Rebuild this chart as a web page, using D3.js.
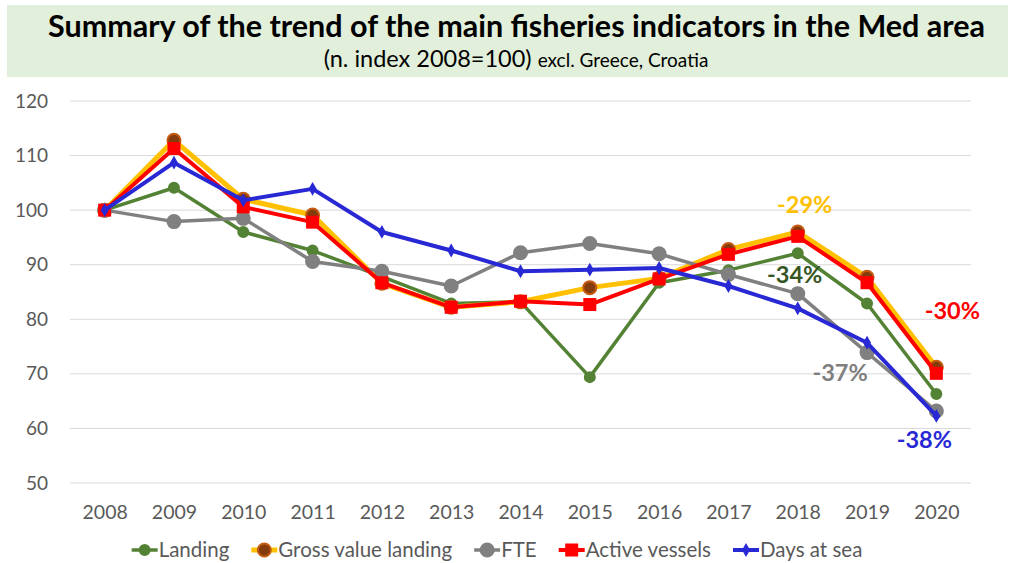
<!DOCTYPE html>
<html>
<head>
<meta charset="utf-8">
<script src="https://d3js.org/d3.v7.min.js"></script>
<style>
  body { margin: 0; background: #fff; }
  text { font-family: Lato, "Open Sans", sans-serif; }
</style>
</head>
<body>
<div id="chart"></div>
<script>
// data
years = ["2008","2009","2010","2011","2012","2013","2014","2015","2016","2017","2018","2019","2020"]
landing      = [100, 104.1, 96.0, 92.6, 87.8, 82.9, 83.2, 69.4, 86.7, 89.0, 92.1, 82.9, 66.3]
grossValue   = [100, 112.8, 102.0, 99.1, 86.6, 82.2, 83.2, 85.8, 87.5, 92.8, 96.0, 87.7, 71.2]
fte          = [100, 97.9, 98.5, 90.6, 88.8, 86.1, 92.2, 93.9, 92.0, 88.2, 84.7, 73.9, 63.2]
activeVessels= [100, 111.3, 100.6, 97.8, 86.7, 82.2, 83.3, 82.7, 87.4, 91.9, 95.2, 86.7, 70.1]
daysAtSea    = [100, 108.7, 101.8, 103.9, 96.0, 92.6, 88.8, 89.1, 89.4, 86.1, 82.0, 75.7, 62.3]
seriesNames  = ["Landing", "Gross value landing", "FTE", "Active vessels", "Days at sea"]
yTicks = [50, 60, 70, 80, 90, 100, 110, 120]

// annotations: label, year, value anchor
noteLabels = ["-29%", "-34%", "-30%", "-37%", "-38%"]
noteYears  = ["2018", "2018", "2020", "2019", "2020"]
noteValues = [100.6, 87.7, 81.2, 69.8, 57.5]
noteShift  = [7, -3, 16, -27, -12]
noteColors = ["#FFC000", "#375623", "#FF0000", "#7F7F7F", "#2828D4"]

width = 1013
height = 563

series = [
  {name: seriesNames[0], values: landing,       color: "#548235", lw: 3.5, marker: "circle", r: 5,  fill: "#548235", stroke: "#548235"},
  {name: seriesNames[1], values: grossValue,    color: "#FFC000", lw: 5,   marker: "circle", r: 6.5, fill: "#843C0C", stroke: "#C55A11"},
  {name: seriesNames[2], values: fte,           color: "#808080", lw: 3.5, marker: "circle", r: 6.5, fill: "#808080", stroke: "#808080"},
  {name: seriesNames[3], values: activeVessels, color: "#FF0000", lw: 4,   marker: "square", r: 6.5, fill: "#FF0000", stroke: "#FF0000"},
  {name: seriesNames[4], values: daysAtSea,     color: "#2828D4", lw: 4,   marker: "diamond", r: 5, fill: "#2828D4", stroke: "#2828D4"}
]

svg = d3.select('#chart')
  .append('svg')
  .attr('width', width)
  .attr('height', height)

// title banner
svg.append('rect')
  .attr('x', 7).attr('y', 5)
  .attr('width', 1001).attr('height', 72)
  .attr('fill', '#E2EFDA')

svg.append('text')
  .attr('x', 48).attr('y', 37)
  .attr('textLength', 937)
  .attr('lengthAdjust', 'spacingAndGlyphs')
  .attr('font-size', 31)
  .attr('font-weight', 'bold')
  .attr('fill', '#000')
  .text('Summary of the trend of the main fisheries indicators in the Med area')

sub = svg.append('text')
  .attr('x', 516).attr('y', 67)
  .attr('text-anchor', 'middle')
  .attr('fill', '#000')
sub.append('tspan').attr('font-size', 23.5).text('(n. index 2008=100) ')
sub.append('tspan').attr('font-size', 19).text('excl. Greece, Croatia')

x = d3.scalePoint()
  .domain(years)
  .range([70, 971])
  .padding(0.5)

y = d3.scaleLinear()
  .domain([50, 120])
  .range([483, 101])

// gridlines
svg.append('g')
  .selectAll('line')
  .data(yTicks)
  .enter().append('line')
  .attr('x1', 70).attr('x2', 971)
  .attr('y1', d => y(d)).attr('y2', d => y(d))
  .attr('stroke', '#D9D9D9')
  .attr('stroke-width', 1)

// y axis
yAxis = svg.append('g')
  .attr('transform', 'translate(58,0)')
  .call(d3.axisLeft(y).tickValues(yTicks).tickSize(0).tickPadding(10))
yAxis.select('.domain').remove()
yAxis.selectAll('text')
  .attr('font-size', 19)
  .attr('fill', '#595959')
  .attr('font-family', 'Lato, sans-serif')

// x axis
xAxis = svg.append('g')
  .attr('transform', 'translate(0,500)')
  .call(d3.axisBottom(x).tickSize(0).tickPadding(5))
xAxis.select('.domain').remove()
xAxis.selectAll('text')
  .attr('font-size', 19.5)
  .attr('fill', '#595959')
  .attr('font-family', 'Lato, sans-serif')

line = d3.line()
  .x((d, i) => x(years[i]))
  .y(d => y(d))

function drawMarker(g, s, cx, cy) {
  if (s.marker == "circle") {
    g.append('circle')
      .attr('cx', cx).attr('cy', cy).attr('r', s.r)
      .attr('fill', s.fill).attr('stroke', s.stroke).attr('stroke-width', 2)
  } else if (s.marker == "square") {
    g.append('rect')
      .attr('x', cx - s.r).attr('y', cy - s.r)
      .attr('width', s.r * 2).attr('height', s.r * 2)
      .attr('fill', s.fill)
  } else {
    g.append('path')
      .attr('d', d3.symbol().type(d3.symbolDiamond).size(s.r * s.r * 2.2)())
      .attr('transform', 'translate(' + cx + ',' + cy + ')')
      .attr('fill', s.fill)
  }
}

series.forEach(function(s) {
  g = svg.append('g')
  g.append('path')
    .datum(s.values)
    .attr('d', line)
    .attr('fill', 'none')
    .attr('stroke', s.color)
    .attr('stroke-width', s.lw)
    .attr('stroke-linejoin', 'round')
  s.values.forEach(function(v, i) {
    drawMarker(g, s, x(years[i]), y(v))
  })
})

// annotations
svg.append('g')
  .selectAll('text')
  .data(noteLabels)
  .enter().append('text')
  .attr('x', (d, i) => x(noteYears[i]) + noteShift[i])
  .attr('y', (d, i) => y(noteValues[i]))
  .attr('text-anchor', 'middle')
  .attr('dominant-baseline', 'middle')
  .attr('font-size', 23.5)
  .attr('font-weight', 'bold')
  .attr('fill', (d, i) => noteColors[i])
  .text(d => d)

// legend
legend = svg.append('g')
lx = 0
series.forEach(function(s) {
  item = legend.append('g').attr('transform', 'translate(' + lx + ',0)')
  item.append('line')
    .attr('x1', 0).attr('x2', 26)
    .attr('y1', 0).attr('y2', 0)
    .attr('stroke', s.color)
    .attr('stroke-width', s.lw)
  drawMarker(item, s, 13, 0)
  t = item.append('text')
    .attr('x', 27).attr('y', 7)
    .attr('font-size', 20.5)
    .attr('fill', '#595959')
    .text(s.name)
  lx += 27 + t.node().getComputedTextLength() + 22
})
legendWidth = lx - 22
legend.attr('transform', 'translate(' + (497 - legendWidth / 2) + ',550)')
</script>
</body>
</html>
